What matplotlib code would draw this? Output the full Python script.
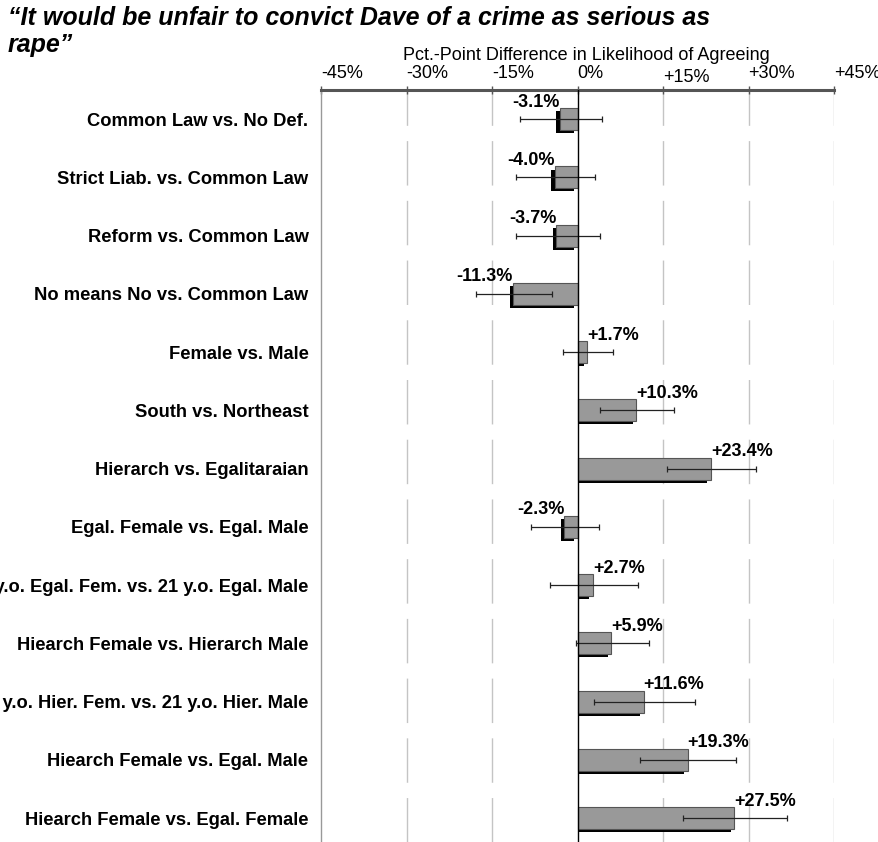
import matplotlib
matplotlib.use("Agg")
import matplotlib.pyplot as plt
import matplotlib.transforms as mtransforms
from matplotlib.patches import Rectangle
import numpy as np

plt.rcParams['font.family'] = ['Liberation Sans', 'DejaVu Sans']

# comparisons, top to bottom
labels = [
    "Common Law vs. No Def.",
    "Strict Liab. vs. Common Law",
    "Reform vs. Common Law",
    "No means No vs. Common Law",
    "Female vs. Male",
    "South vs. Northeast",
    "Hierarch vs. Egalitaraian",
    "Egal. Female vs. Egal. Male",
    "21 y.o. Egal. Fem. vs. 21 y.o. Egal. Male",
    "Hiearch Female vs. Hierarch Male",
    "21 y.o. Hier. Fem. vs. 21 y.o. Hier. Male",
    "Hiearch Female vs. Egal. Male",
    "Hiearch Female vs. Egal. Female",
]
diffs = [-3.1, -4.0, -3.7, -11.3, 1.7, 10.3, 23.4, -2.3, 2.7, 5.9, 11.6, 19.3, 27.5]
ci_low = [-10.1, -10.8, -10.8, -17.8, -2.6, 3.9, 15.7, -8.1, -4.8, -0.3, 2.9, 11.0, 18.5]
ci_high = [4.3, 3.1, 3.9, -4.4, 6.2, 17.0, 31.4, 3.8, 10.7, 12.5, 20.6, 27.8, 36.8]
xticks = [-45, -30, -15, 0, 15, 30, 45]
xticklabels = ["-45%", "-30%", "-15%", "0%", "+15%", "+30%", "+45%"]

diffs = np.array(diffs)
y = np.arange(len(labels))
xerr = np.vstack([diffs - np.array(ci_low), np.array(ci_high) - diffs])

fig = plt.figure(figsize=(8.79, 8.42), dpi=100)
ax = fig.add_axes([321 / 879, 0.0, (834 - 321) / 879, 1 - 90 / 842])

# dashed gridlines
for t in xticks[1:]:
    if t == 0:
        continue
    ax.axvline(t, color="#c4c4c4", lw=1.0, ls=(0, (32, 11)), zorder=0)

h = 0.375

# black drop shadow, shifted left and down; positive ones stop at zero
shift = ax.transData + mtransforms.ScaledTranslation(-2.5 / 72, -2.2 / 72,
                                                     fig.dpi_scale_trans)
shadows = ax.barh(y, diffs, height=h, color="black", linewidth=0,
                  transform=shift, zorder=2)
right_of_zero = Rectangle((0, -5), 100, 50, transform=ax.transData)
for s, v in zip(shadows, diffs):
    if v > 0:
        s.set_clip_path(right_of_zero)

ax.barh(y, diffs, height=h, color="#999999", edgecolor="#555555",
        linewidth=0.8, zorder=3)

ax.errorbar(diffs, y, xerr=xerr, fmt="none", ecolor="#222222",
            elinewidth=0.9, capsize=2.5, capthick=0.9, zorder=4)

ax.axvline(0, color="black", lw=1.0, zorder=5)

for yi, v in zip(y, diffs):
    txt = f"{v:+.1f}%"
    ax.text(v, yi - h / 2 + 0.04, txt, ha="right" if v < 0 else "left",
            va="bottom", fontsize=13, fontweight="bold", zorder=6)

ax.set_xlim(-45, 45)
ax.set_ylim(len(labels) - 0.59, -0.5)

ax.set_yticks(y)
ax.set_yticklabels(labels, fontsize=13.2, fontweight="bold")
ax.tick_params(axis="y", length=0, pad=9)

ax.xaxis.tick_top()
ax.set_xticks(xticks)
ax.set_xticklabels(xticklabels, fontsize=13, ha="left")
ax.tick_params(axis="x", direction="inout", length=6, width=1,
               color="#555555", pad=3)
# the +15% label sits a little lower
lbl15 = ax.get_xticklabels()[4]
lbl15.set_transform(lbl15.get_transform() +
                    mtransforms.ScaledTranslation(0, -3 / 72, fig.dpi_scale_trans))

for side in ["right", "bottom"]:
    ax.spines[side].set_visible(False)
ax.spines["top"].set_color("#555555")
ax.spines["top"].set_linewidth(2.2)
ax.spines["left"].set_color("#999999")
ax.spines["left"].set_linewidth(1.0)

fig.text(586 / 879, 1 - 55 / 842, "Pct.-Point Difference in Likelihood of Agreeing",
         ha="center", va="center", fontsize=13)

fig.text(8 / 879, 1 - 6 / 842,
         "\u201cIt would be unfair to convict Dave of a crime as serious as\nrape\u201d",
         ha="left", va="top", fontsize=18, fontweight="bold", style="italic",
         linespacing=1.18)

fig.savefig("out.png", dpi=100)
